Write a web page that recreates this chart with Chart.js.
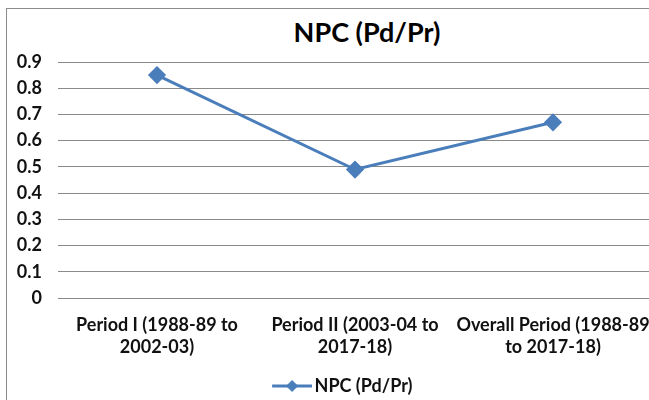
<!DOCTYPE html>
<html lang="en">
<head>
    <meta charset="UTF-8">
    <title>NPC (Pd/Pr)</title>
    <script src="https://cdn.jsdelivr.net/npm/chart.js@4.4.1/dist/chart.umd.min.js"></script>
    <style>
        body { margin: 0; overflow: hidden; background: #fff; }
        #frame { position: absolute; left: 6px; top: 8px; width: 720px; height: 420px; border: 1px solid #8c8c8c; }
        #title { position: absolute; left: 210px; top: 6px; width: 300px; text-align: center;
                 font: bold 27px Lato, "Open Sans", sans-serif; color: #000; }
        #chart { position: absolute; left: 0; top: 0; }
    </style>
</head>
<body>
    <div id="frame">
        <div id="title">NPC (Pd/Pr)</div>
        <canvas id="chart" width="674" height="396"></canvas>
    </div>
    <script>
        const periods = [
            ['Period I (1988-89 to', '2002-03)'],
            ['Period II (2003-04 to', '2017-18)'],
            ['Overall Period (1988-89', 'to 2017-18)']
        ];
        const npcValues = [0.85, 0.49, 0.67];
        const seriesName = 'NPC (Pd/Pr)';
        const yTicks = [0, 0.1, 0.2, 0.3, 0.4, 0.5, 0.6, 0.7, 0.8, 0.9];

        const blue = '#4a7ebb';

        // line + diamond for the legend, drawn in the right part of a wider
        // image so it sits a bit right of the box centre (excel spacing)
        function legendMarker() {
            const c = document.createElement('canvas');
            c.width = 72; c.height = 14;
            const g = c.getContext('2d');
            g.strokeStyle = blue;
            g.lineWidth = 3;
            g.beginPath(); g.moveTo(32, 7); g.lineTo(72, 7); g.stroke();
            g.fillStyle = blue;
            g.beginPath(); g.moveTo(52, 1); g.lineTo(58, 7); g.lineTo(52, 13); g.lineTo(46, 7); g.closePath(); g.fill();
            return c;
        }

        const font = { family: 'Lato, "Open Sans", sans-serif', size: 18, weight: 'bold', lineHeight: 1.22 };

        const ctx = document.getElementById('chart').getContext('2d');
        new Chart(ctx, {
            type: 'line',
            data: {
                labels: periods,
                datasets: [{
                    label: seriesName,
                    data: npcValues,
                    borderColor: blue,
                    backgroundColor: blue,
                    borderWidth: 3,
                    pointStyle: 'rectRot',
                    pointRadius: 7,
                    pointHoverRadius: 7,
                    tension: 0,
                    fill: false
                }]
            },
            options: {
                responsive: false,
                animation: false,
                layout: { autoPadding: false, padding: { top: 53, right: 29, left: 0, bottom: 0 } },
                scales: {
                    x: {
                        offset: true,
                        grid: { display: false, drawTicks: false },
                        border: { display: false },
                        ticks: { color: '#111', font: font, padding: 16, maxRotation: 0, autoSkip: false },
                        afterFit: s => { s.height = 75; s.paddingLeft = 0; s.paddingRight = 0; }
                    },
                    y: {
                        min: 0,
                        max: 0.9,
                        afterBuildTicks: s => { s.ticks = yTicks.map(v => ({ value: v })); },
                        grid: { color: '#8a8a8a', lineWidth: 1, drawTicks: false },
                        border: { display: false },
                        ticks: { color: '#111', font: font, padding: 16, callback: v => String(Math.round(v * 10) / 10) },
                        afterFit: s => { s.width = 51; }
                    }
                },
                plugins: {
                    legend: {
                        position: 'bottom',
                        labels: {
                            usePointStyle: true,
                            pointStyle: legendMarker(),
                            pointStyleWidth: 59,
                            color: '#111',
                            font: font,
                            padding: 4
                        }
                    },
                    tooltip: { enabled: false }
                }
            }
        });
    </script>
</body>
</html>
